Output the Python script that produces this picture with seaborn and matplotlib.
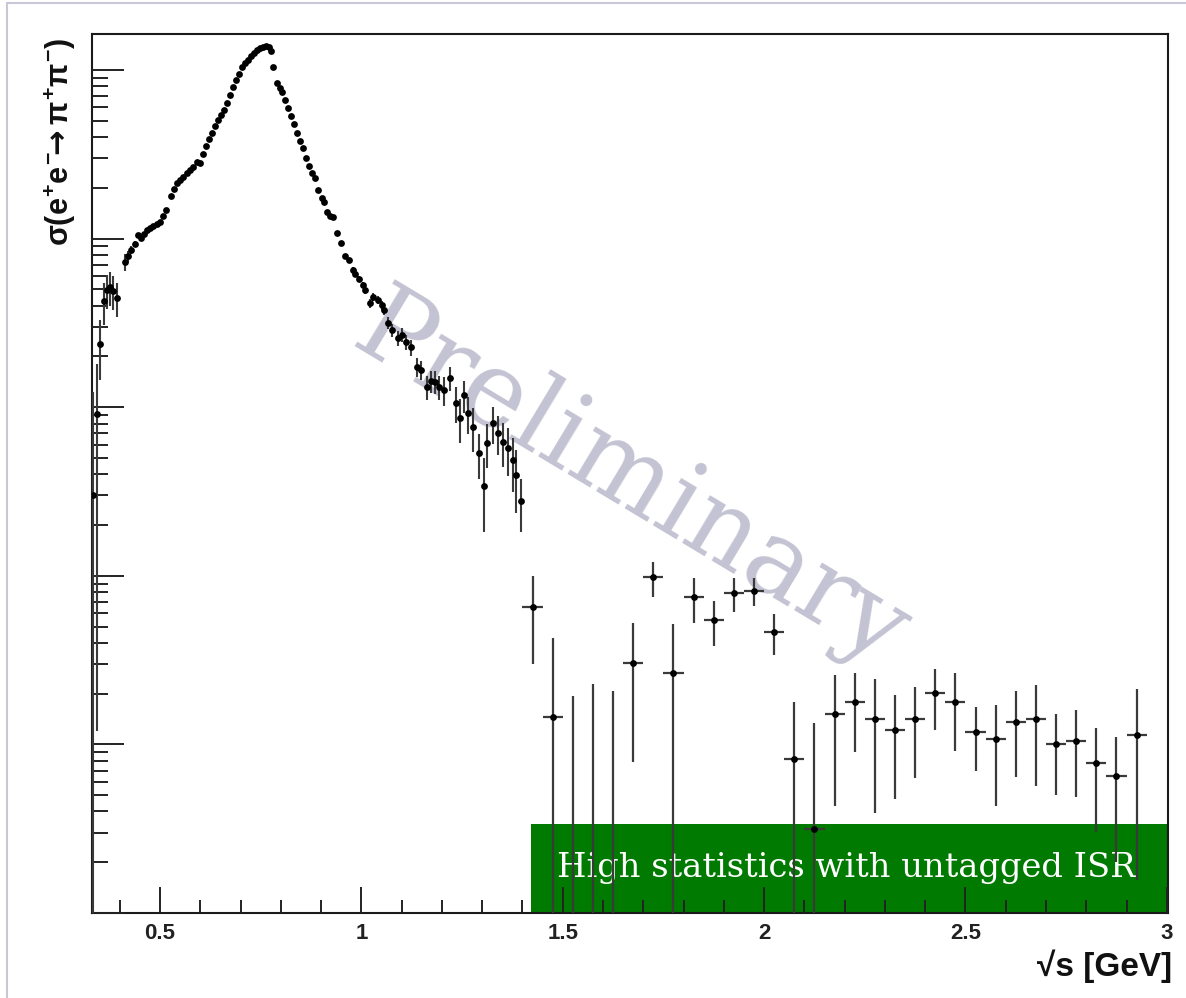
import matplotlib
matplotlib.use("Agg")
import matplotlib.pyplot as plt
import seaborn as sns
import numpy as np
from matplotlib.patches import Rectangle
from matplotlib.lines import Line2D
from matplotlib.ticker import MultipleLocator, LogLocator, NullFormatter

# --- e+e- -> pi+pi- cross section [nb], fine-binned region ---
sqrt_s_fine = [
    0.333, 0.343, 0.351, 0.361, 0.368, 0.376, 0.383, 0.393, 0.413, 0.420,
    0.428, 0.438, 0.445, 0.453, 0.460, 0.468, 0.475, 0.483, 0.493, 0.500,
    0.508, 0.515, 0.527, 0.535, 0.542, 0.550, 0.557, 0.567, 0.575, 0.582,
    0.592, 0.600, 0.607, 0.614, 0.622, 0.629, 0.637, 0.644, 0.652, 0.659,
    0.667, 0.674, 0.682, 0.689, 0.697, 0.704, 0.711, 0.719, 0.726, 0.734,
    0.741, 0.749, 0.756, 0.764, 0.771, 0.776, 0.781, 0.791, 0.799, 0.804,
    0.811, 0.818, 0.826, 0.833, 0.841, 0.848, 0.856, 0.863, 0.871, 0.878,
    0.886, 0.893, 0.901, 0.908, 0.915, 0.923, 0.930, 0.940, 0.950, 0.960,
    0.968, 0.978, 0.985, 0.993, 1.003, 1.010, 1.022, 1.030, 1.040, 1.050,
    1.057, 1.067, 1.077, 1.090, 1.102, 1.110, 1.122, 1.139, 1.147, 1.164,
    1.174, 1.184, 1.192, 1.204, 1.221, 1.234, 1.246, 1.254, 1.264, 1.276,
    1.291, 1.304, 1.313, 1.326, 1.338, 1.351, 1.363, 1.376, 1.383, 1.396,
]
sigma_fine = [
    3.01, 9.12, 23.7, 42.7, 49.6, 51.6, 48.9, 44.4, 72.6, 78.8,
    85.5, 92.9, 105, 101, 106, 112, 116, 119, 122, 125,
    136, 148, 179, 197, 214, 223, 232, 245, 255, 266,
    285, 281, 318, 354, 390, 423, 466, 505, 541, 579,
    637, 711, 793, 873, 946, 1042, 1101, 1146, 1211, 1262,
    1314, 1349, 1368, 1387, 1368, 1297, 1042, 837, 782, 741,
    664, 595, 534, 478, 423, 379, 345, 301, 270, 245,
    229, 194, 174, 165, 144, 136, 134, 108, 94.2, 78.8,
    74.6, 65.1, 61.7, 57.5, 53.1, 49.6, 41.5, 45.1, 43.3, 40.4,
    37.7, 31.6, 28.7, 25.7, 26.8, 24.4, 22.7, 17.3, 16.6, 13.2,
    14.3, 14.1, 13.2, 12.6, 14.9, 10.6, 8.63, 11.8, 9.24, 7.63,
    5.35, 3.41, 6.14, 8.05, 7.03, 6.22, 5.73, 4.86, 3.96, 2.78,
]
error_fine = [
    9.3, 9.0, 9.2, 11.8, 11.2, 11.8, 11.1, 10.1, 8.4, 6.0,
    5.0, 4.0, 3, 3, 3, 3, 3, 3, 3, 3,
    3, 3, 4, 4, 4, 4, 4, 5, 5, 5,
    5, 5, 5, 5, 6, 6, 6, 7, 7, 7,
    8, 8, 9, 9, 10, 10, 11, 11, 11, 12,
    12, 12, 12, 12, 12, 12, 10, 9, 8, 8,
    7, 7, 6, 6, 5, 5, 5, 4, 4, 4,
    4, 3, 3, 3, 3, 3, 3, 3, 3, 2.5,
    2.5, 2.5, 2.5, 2.5, 2.5, 2.5, 2.5, 2.5, 2.5, 2.5,
    2.5, 2.5, 2.5, 2.5, 2.5, 2.5, 2.5, 2.2, 2.2, 2.2,
    2.2, 2.2, 2.2, 2.5, 2.5, 2.5, 2.5, 2.5, 2.3, 2.2,
    1.6, 1.6, 1.8, 2.0, 1.8, 1.8, 1.8, 1.7, 1.6, 0.95,
]

# --- coarse 50 MeV bins above 1.4 GeV ---
sqrt_s_coarse = [
    1.425, 1.475, 1.525, 1.575, 1.625, 1.675, 1.725, 1.775, 1.825, 1.875,
    1.925, 1.975, 2.025, 2.075, 2.125, 2.175, 2.225, 2.275, 2.325, 2.375,
    2.425, 2.475, 2.525, 2.575, 2.625, 2.675, 2.725, 2.775, 2.825, 2.875,
    2.925,
]
sigma_coarse = [
    0.650, 0.146, 0.0, 0.0, 0.0, 0.303, 0.980, 0.264, 0.745, 0.547,
    0.787, 0.816, 0.466, 0.0816, 0.0313, 0.151, 0.178, 0.1415, 0.1217, 0.1415,
    0.201, 0.179, 0.118, 0.107, 0.136, 0.141, 0.1005, 0.105, 0.0773, 0.065,
    0.1138,
]
error_coarse = [
    0.35, 0.28, 0.194, 0.227, 0.207, 0.224, 0.23, 0.254, 0.221, 0.164,
    0.179, 0.150, 0.127, 0.097, 0.103, 0.108, 0.088, 0.1025, 0.0743, 0.0785,
    0.079, 0.087, 0.048, 0.064, 0.072, 0.084, 0.0505, 0.056, 0.0472, 0.045,
    0.098,
]
coarse_half_width = 0.025

x_ticks = [0.5, 1.0, 1.5, 2.0, 2.5, 3.0]
x_tick_labels = ["0.5", "1", "1.5", "2", "2.5", "3"]

sns.set_theme(style="ticks")
plt.rcParams["font.family"] = ["Liberation Sans", "DejaVu Sans"]
plt.rcParams["mathtext.fontset"] = "custom"
plt.rcParams["mathtext.rm"] = "Liberation Sans:bold"
plt.rcParams["mathtext.it"] = "Liberation Sans:bold"
plt.rcParams["mathtext.bf"] = "Liberation Sans:bold"
plt.rcParams["mathtext.sf"] = "DejaVu Sans:bold"

W, H = 1186, 998
fig = plt.figure(figsize=(W / 100, H / 100), dpi=100)
fig.patch.set_facecolor("white")
ax = fig.add_axes([92 / W, 1 - 913 / H, (1168 - 92) / W, (913 - 34) / H])
ax.set_facecolor("white")
ax.set_yscale("log")
ax.set_xlim(0.331, 3.003)
ax.set_ylim(0.01, 1635)

bar_color = "#3a3a3a"
ax.errorbar(sqrt_s_fine, sigma_fine, yerr=error_fine, fmt="none",
            ecolor=bar_color, elinewidth=1.5, capsize=0, zorder=3)
ax.errorbar(sqrt_s_coarse, sigma_coarse, yerr=error_coarse,
            xerr=coarse_half_width, fmt="none",
            ecolor=bar_color, elinewidth=1.6, capsize=0, zorder=3)

x_pts = np.array(sqrt_s_fine + sqrt_s_coarse)
y_pts = np.array(sigma_fine + sigma_coarse)
keep = y_pts > 0
sns.scatterplot(x=x_pts[keep], y=y_pts[keep], ax=ax, color="black",
                s=24, linewidth=0, marker="o", legend=False, zorder=4)

# watermark
ax.text(0.5, 0.490, "Preliminary", transform=ax.transAxes,
        fontsize=76, family="DejaVu Serif", color="#c3c3d3",
        rotation=-31, rotation_mode="anchor", ha="center", va="center",
        zorder=1.5)

# green banner in the lower right corner
ax.add_patch(Rectangle((0.408, 0.0), 0.592, 0.1012, transform=ax.transAxes,
                       facecolor="#007a00", edgecolor="none", zorder=1))
ax.text(0.4322, 0.0512, "High statistics with untagged ISR",
        transform=ax.transAxes, fontsize=24.3, family="DejaVu Serif",
        color="white", ha="left", va="center", zorder=2)

ax.set_axisbelow(False)
ax.xaxis.set_major_locator(MultipleLocator(0.5))
ax.xaxis.set_minor_locator(MultipleLocator(0.1))
ax.set_xticks(x_ticks, labels=x_tick_labels, fontsize=16, fontweight="bold",
              color="#222222")
ax.yaxis.set_major_locator(LogLocator(base=10, numticks=20))
ax.yaxis.set_minor_locator(LogLocator(base=10, subs=np.arange(2, 10), numticks=20))
ax.yaxis.set_minor_formatter(NullFormatter())

ax.tick_params(axis="x", which="major", direction="in", length=18.7, width=1.4,
               pad=7, top=False, color="#222222")
ax.tick_params(axis="x", which="minor", direction="in", length=9.4, width=1.4,
               top=False, color="#222222")
ax.tick_params(axis="y", which="major", direction="in", length=23, width=1.4,
               right=False, labelleft=False, color="#222222")
ax.tick_params(axis="y", which="minor", direction="in", length=11.5, width=1.4,
               right=False, color="#222222")
for side in ["left", "right", "top", "bottom"]:
    ax.spines[side].set_visible(True)
    ax.spines[side].set_linewidth(1.5)
    ax.spines[side].set_color("#1a1a1a")
ax.grid(False)

fig.text(60 / W, 1 - 38 / H,
         r"$\sigma(e^{+}e^{-}\!\!\mathsf{\rightarrow}\pi^{+}\pi^{-})$",
         rotation=90, ha="center", va="top", fontsize=22, fontweight="bold",
         color="#111111")
fig.text(1172 / W, 1 - 966 / H, "√s [GeV]", ha="right", va="center",
         fontsize=24, fontweight="bold", color="#111111")

# thin page frame
fig.add_artist(Line2D([7 / W, 7 / W], [0, 1 - 3 / H], transform=fig.transFigure,
                      color="#c8c8d8", lw=1.5))
fig.add_artist(Line2D([7 / W, 1], [1 - 3 / H, 1 - 3 / H], transform=fig.transFigure,
                      color="#c8c8d8", lw=1.5))

fig.savefig("out.png", dpi=100, facecolor="white")
